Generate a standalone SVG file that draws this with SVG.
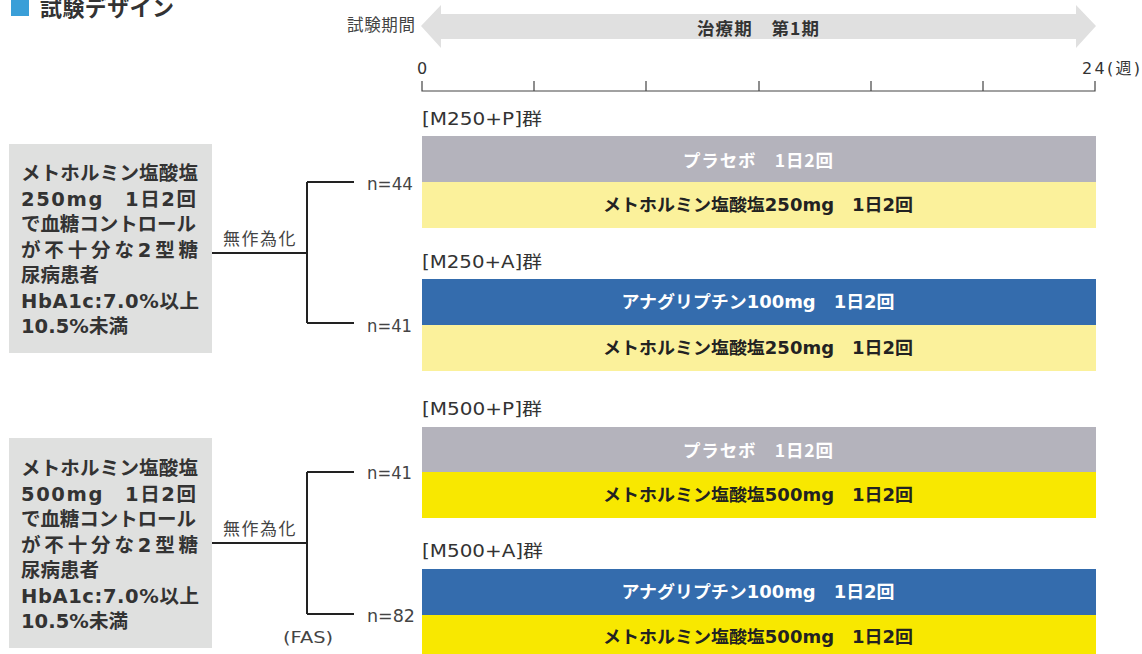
<svg xmlns="http://www.w3.org/2000/svg" width="1142" height="654" viewBox="0 0 1142 654">
<style>
text{font-family:"Noto Sans CJK JP","Noto Sans",sans-serif;}
.w{font-family:"DejaVu Sans","Noto Sans CJK JP",sans-serif;}
.box{fill:#dfe0df;}
.bt{font-size:19.5px;font-weight:700;fill:#333;}
.grp{font-size:17px;fill:#333;}
.bw{font-size:17.5px;font-weight:700;fill:#fff;text-anchor:middle;dominant-baseline:central;}
.bk{font-size:17.5px;font-weight:700;fill:#222;text-anchor:middle;dominant-baseline:central;}
.n{font-size:17px;fill:#444;dominant-baseline:central;}
.lab{font-size:17px;fill:#444;letter-spacing:1.5px;}
.ln{stroke:#222;stroke-width:2;fill:none;}
.ax{stroke:#444;stroke-width:1.2;fill:none;}
.gray{fill:#b4b3bc;}.ly{fill:#fbf19b;}.yy{fill:#f8e800;}.blue{fill:#346cad;}
</style>
<g id="title">
<rect x="11" y="-2" width="18" height="18" fill="#3a9fd8"/>
<text x="40" y="16" textLength="134" lengthAdjust="spacing" style="font-size:22px;font-weight:700;fill:#333">試験デザイン</text>
</g>
<g id="timeline">
<text x="347" y="31" textLength="68" lengthAdjust="spacing" style="font-size:16.5px;fill:#444">試験期間</text>
<polygon points="421,26 441,5 441,14 1076,14 1076,5 1096,26 1076,48 1076,39 441,39 441,48" fill="#e0e0e0"/>
<text x="758" y="27" textLength="122" lengthAdjust="spacing" style="font-size:17.5px;font-weight:700;fill:#333;text-anchor:middle;dominant-baseline:central">治療期　第1期</text>
<text class="w" x="422" y="74" style="font-size:16px;fill:#333;text-anchor:middle">0</text>
<text class="w" x="1082" y="74" textLength="58" lengthAdjust="spacing" style="font-size:16px;fill:#333">24(週)</text>
<path class="ax" d="M422,81V91H1095V81M534,81V91M646,81V91M759,81V91M871,81V91M983,81V91"/>
</g>
<g id="box1">
<rect class="box" x="9" y="144" width="203" height="209"/>
<text class="bt" x="21" y="180" textLength="177" lengthAdjust="spacing">メトホルミン塩酸塩</text>
<text class="bt w" x="21" y="205.5" textLength="175" lengthAdjust="spacing">250mg　1日2回</text>
<text class="bt" x="21" y="231" textLength="175" lengthAdjust="spacing">で血糖コントロール</text>
<text class="bt w" x="21" y="256.5" textLength="177" lengthAdjust="spacing">が不十分な2型糖</text>
<text class="bt" x="21" y="282">尿病患者</text>
<text class="bt w" x="21" y="307.5" textLength="178" lengthAdjust="spacing">HbA1c:7.0%以上</text>
<text class="bt w" x="21" y="333" textLength="107" lengthAdjust="spacing">10.5%未満</text>
</g>
<g id="box2">
<rect class="box" x="9" y="438" width="203" height="210"/>
<text class="bt" x="21" y="475" textLength="177" lengthAdjust="spacing">メトホルミン塩酸塩</text>
<text class="bt w" x="21" y="500.5" textLength="175" lengthAdjust="spacing">500mg　1日2回</text>
<text class="bt" x="21" y="526" textLength="175" lengthAdjust="spacing">で血糖コントロール</text>
<text class="bt w" x="21" y="551.5" textLength="177" lengthAdjust="spacing">が不十分な2型糖</text>
<text class="bt" x="21" y="577">尿病患者</text>
<text class="bt w" x="21" y="602.5" textLength="178" lengthAdjust="spacing">HbA1c:7.0%以上</text>
<text class="bt w" x="21" y="628" textLength="107" lengthAdjust="spacing">10.5%未満</text>
</g>
<g id="connectors">
<path class="ln" d="M212,253H307M307,182V323M307,182H354M307,323H354"/>
<path class="ln" d="M212,543H307M307,472V614M307,472H354M307,614H354"/>
</g>
<g id="labels">
<text class="lab" x="223" y="245">無作為化</text>
<text class="lab" x="223" y="535">無作為化</text>
<text class="n w" x="367" y="184" textLength="46" lengthAdjust="spacingAndGlyphs">n=44</text>
<text class="n w" x="367" y="326" textLength="45" lengthAdjust="spacingAndGlyphs">n=41</text>
<text class="n w" x="367" y="473" textLength="45" lengthAdjust="spacingAndGlyphs">n=41</text>
<text class="n w" x="367" y="616" textLength="48" lengthAdjust="spacingAndGlyphs">n=82</text>
<text class="w" x="283" y="643" textLength="50" lengthAdjust="spacingAndGlyphs" style="font-size:16px;fill:#444">(FAS)</text>
</g>
<g id="group1">
<text class="grp w" x="422" y="125" textLength="120" lengthAdjust="spacingAndGlyphs">[M250+P]群</text>
<rect class="gray" x="422" y="136" width="674" height="46"/>
<rect class="ly" x="422" y="182" width="674" height="46"/>
<text class="bw" x="758" y="159" textLength="150" lengthAdjust="spacing">プラセボ　1日2回</text>
<text class="bk w" x="758" y="205" textLength="310" lengthAdjust="spacingAndGlyphs">メトホルミン塩酸塩250mg　1日2回</text>
</g>
<g id="group2">
<text class="grp w" x="422" y="268" textLength="120" lengthAdjust="spacingAndGlyphs">[M250+A]群</text>
<rect class="blue" x="422" y="279" width="674" height="46"/>
<rect class="ly" x="422" y="325" width="674" height="46"/>
<text class="bw w" x="758" y="302" textLength="273" lengthAdjust="spacingAndGlyphs">アナグリプチン100mg　1日2回</text>
<text class="bk w" x="758" y="348" textLength="310" lengthAdjust="spacingAndGlyphs">メトホルミン塩酸塩250mg　1日2回</text>
</g>
<g id="group3">
<text class="grp w" x="422" y="415" textLength="120" lengthAdjust="spacingAndGlyphs">[M500+P]群</text>
<rect class="gray" x="422" y="427" width="674" height="45"/>
<rect class="yy" x="422" y="472" width="674" height="46"/>
<text class="bw" x="758" y="449.5" textLength="150" lengthAdjust="spacing">プラセボ　1日2回</text>
<text class="bk w" x="758" y="495" textLength="310" lengthAdjust="spacingAndGlyphs">メトホルミン塩酸塩500mg　1日2回</text>
</g>
<g id="group4">
<text class="grp w" x="422" y="557" textLength="121" lengthAdjust="spacingAndGlyphs">[M500+A]群</text>
<rect class="blue" x="422" y="569" width="674" height="46"/>
<rect class="yy" x="422" y="615" width="674" height="46"/>
<text class="bw w" x="758" y="592" textLength="273" lengthAdjust="spacingAndGlyphs">アナグリプチン100mg　1日2回</text>
<text class="bk w" x="758" y="637" textLength="310" lengthAdjust="spacingAndGlyphs">メトホルミン塩酸塩500mg　1日2回</text>
</g>
</svg>
